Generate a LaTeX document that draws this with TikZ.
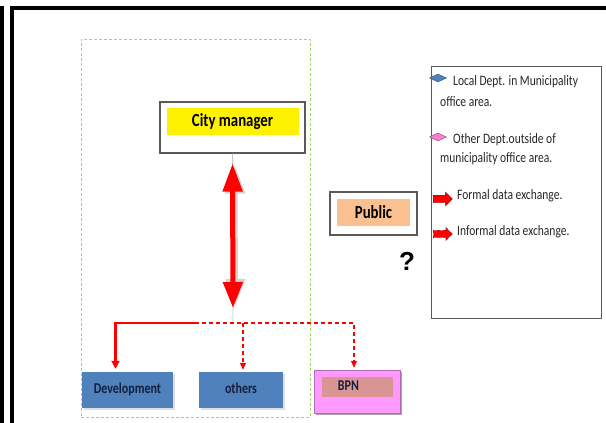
\documentclass[tikz,border=0pt]{standalone}
\usepackage{graphicx}
\usepackage{fontspec}
\setmainfont{Carlito}
\newfontfamily\markfont{Liberation Sans}
\usetikzlibrary{calc}
\usetikzlibrary{arrows.meta}
\usetikzlibrary{shapes.geometric}
\usetikzlibrary{shapes.arrows}
\usetikzlibrary{shadows}
\newcommand{\narrowtext}[1]{\scalebox{0.8}[1]{#1}}
\definecolor{deptblue}{RGB}{79,129,189}
\definecolor{deptpink}{RGB}{255,153,255}
\definecolor{bpnrose}{RGB}{217,149,148}
\definecolor{publicorange}{RGB}{250,192,144}
\definecolor{zonegreen}{RGB}{165,216,105}
\definecolor{labelnavy}{RGB}{22,30,58}
\definecolor{framegray}{RGB}{90,90,90}
\tikzstyle{outerbox} = [draw=framegray, line width=1.1pt, fill=white, inner sep=0pt]
\tikzstyle{innerbox} = [inner sep=0pt, font=\bfseries\fontsize{18.5}{20}\selectfont]
\tikzstyle{deptbox} = [fill=deptblue, inner sep=0pt, minimum width=91pt, minimum height=36pt, text=labelnavy, font=\bfseries\fontsize{15}{17}\selectfont, drop shadow={shadow xshift=2pt, shadow yshift=-2pt, fill=gray!25, opacity=1}]
\tikzstyle{formal} = [red, line width=2.7pt, -{Triangle[width=8pt,length=8pt]}, shorten >=3pt]
\tikzstyle{informal} = [red, line width=1.2pt, dash pattern=on 4pt off 3pt, -{Triangle[width=6pt,length=7pt]}, shorten >=2pt]
\tikzstyle{bigarrow} = [line width=5pt, {Triangle[width=19pt,length=28pt]}-{Triangle[width=19pt,length=26pt]}]
\tikzstyle{legendtext} = [anchor=west, inner sep=1pt, font=\fontsize{14.4}{16}\selectfont, text=black!85]
\tikzstyle{keydiamond} = [diamond, aspect=2, minimum width=17pt, minimum height=8pt, inner sep=0pt]
\tikzstyle{keyarrow} = [single arrow, fill=red, minimum height=19pt, single arrow head extend=3pt, inner sep=3.5pt]

\begin{document}
\begin{tikzpicture}[x=1pt, y=-1pt]
\useasboundingbox (0,0) rectangle (606,423);
% black frame
\fill[black] (0,6) rectangle (4,423);
\fill[black] (10,6) rectangle (14,423);
\fill[black] (10,6) rectangle (606,10);

% municipality office area
\node[draw=zonegreen, line width=0.8pt, dash pattern=on 3pt off 2pt, minimum width=229pt, minimum height=378pt, inner sep=0pt] (zone) at (195.5,228) {};

% city manager
\node[outerbox, minimum width=145pt, minimum height=51pt] (citybox) at (232.5,127.5) {};
\node[innerbox, fill=yellow, minimum width=132pt, minimum height=27pt] (citymgr) at ($(citybox)+(0,-6)$) {\narrowtext{City manager}};

% public
\node[outerbox, minimum width=87pt, minimum height=43pt] (publicbox) at (373.5,213.5) {};
\node[innerbox, fill=publicorange, minimum width=73pt, minimum height=27pt] (public) at ($(publicbox)+(0,-1)$) {\narrowtext{Public}};
\node[font=\markfont\bfseries\fontsize{26}{28}\selectfont] (question) at (407,261) {?};

% departments
\node[deptbox] (dev) at (127.5,390) {\raisebox{3pt}{\narrowtext{Development}}};
\node[deptbox, minimum width=84pt] (others) at (241,390) {\raisebox{3pt}{\narrowtext{others}}};
\node[fill=deptpink, draw=deptpink!70!black, inner sep=0pt, minimum width=86pt, minimum height=43pt, drop shadow={shadow xshift=2pt, shadow yshift=-2pt, fill=gray!70, opacity=1}] (bpnbox) at (357,391.5) {};
\node[fill=bpnrose, inner sep=0pt, minimum width=71pt, minimum height=20pt] (bpn) at ($(bpnbox)+(0.5,-4.5)$) {};
\node[text=labelnavy, font=\bfseries\fontsize{15}{17}\selectfont] (bpntext) at (348.5,386) {\narrowtext{BPN}};

% data exchange
\coordinate (split) at (233,323);
\coordinate (solidend) at (195,323);
\coordinate (devturn) at (115.5,323);
\coordinate (othturn) at (243,323);
\coordinate (bpnturn) at (354,323);
\draw[gray!45, line width=0.8pt] (citybox.south) -- (split);
\draw[bigarrow, gray!35, shorten <=12pt, shorten >=18pt, transform canvas={xshift=2.5pt}] (citybox.south) -- (split);
\draw[bigarrow, red, shorten <=10pt, shorten >=15pt] (citybox.south) -- (split);
\draw[formal] (solidend) -- (devturn) -- (devturn |- dev.north);
\draw[informal] (solidend) -- (bpnturn) -- (bpnturn |- bpnbox.north);
\draw[informal] (othturn) -- (othturn |- others.north);

% legend
\node[draw=framegray, line width=1pt, minimum width=170pt, minimum height=252pt, inner sep=0pt] (legend) at (516,192) {};
\node[keydiamond, fill=deptblue, draw=deptblue!60!black] (localkey) at (438,78) {};
\node[legendtext] (localtxt) at (452,82) {\narrowtext{Local Dept. in Municipality}};
\node[legendtext] (localtxt2) at (439,102) {\narrowtext{office area.}};
\node[keydiamond, fill=deptpink!80!red, draw=deptpink!50!black] (otherkey) at (438,137) {};
\node[legendtext] (othertxt) at (452,140) {\narrowtext{Other Dept.outside of}};
\node[legendtext] (othertxt2) at (439,159) {\narrowtext{municipality office area.}};
\node[keyarrow, draw=red!40!black] (formalkey) at (441,199) {};
\node[legendtext] (formaltxt) at (456,196) {\narrowtext{Formal data exchange.}};
\node[keyarrow, draw=red!40!black, dashed] (informalkey) at (441,234) {};
\node[legendtext] (informaltxt) at (456,232) {\narrowtext{Informal data exchange.}};
\end{tikzpicture}
\end{document}
